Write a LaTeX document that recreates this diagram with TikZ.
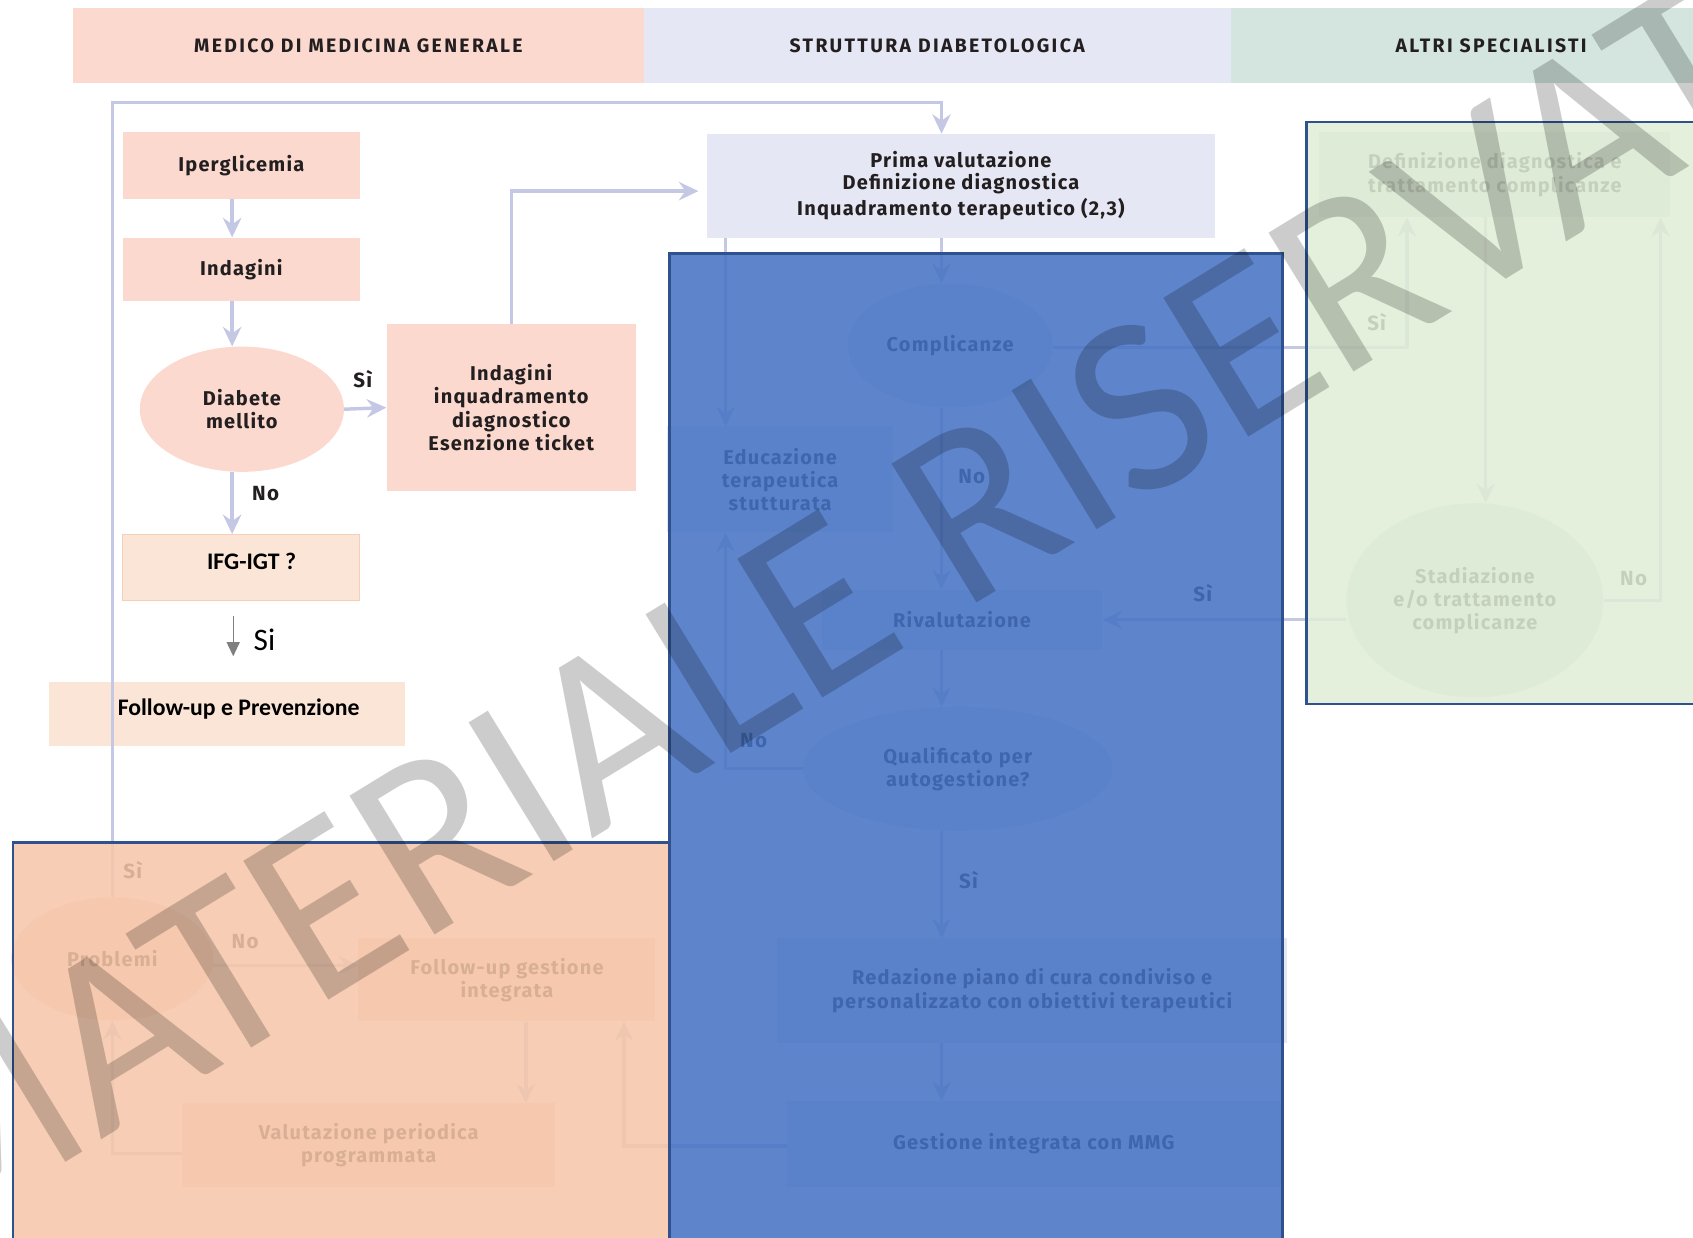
\documentclass[tikz,border=0pt]{standalone}
\usepackage{fontspec}
\setmainfont{Fira Sans}
\newfontfamily\bodyf{Fira Sans}[LetterSpace=6.0]
\newfontfamily\hdrf{Fira Sans}[LetterSpace=12.0]
\newfontfamily\calf{Carlito}
\usetikzlibrary{arrows.meta,shapes.geometric,calc}
\definecolor{pinkc}{RGB}{251,217,206}
\definecolor{peach}{RGB}{251,229,214}
\definecolor{peachb}{RGB}{247,206,182}
\definecolor{lav}{RGB}{230,231,244}
\definecolor{greenh}{RGB}{211,229,222}
\definecolor{conn}{RGB}{197,200,228}
\definecolor{txt}{RGB}{35,31,32}
\definecolor{ovblue}{RGB}{68,114,196}
\definecolor{ovorange}{RGB}{246,199,169}
\definecolor{ovgreen}{RGB}{224,238,214}
\definecolor{ovborder}{RGB}{47,82,143}
\definecolor{grayarr}{RGB}{127,127,127}
\tikzset{
  box/.style={rectangle, inner sep=0pt, align=center, text=txt,
    font=\bodyf\bfseries\fontsize{18.5}{21.5}\selectfont},
  pbox/.style={box, fill=pinkc},
  lbox/.style={box, fill=lav},
  gbox/.style={box, fill=greenh},
  ell/.style={ellipse, inner sep=0pt, align=center, text=txt,
    font=\bodyf\bfseries\fontsize{18.5}{21.5}\selectfont},
  conarrow/.style={draw=conn, line width=3.2pt, -{Stealth[length=18pt,width=17pt,inset=6pt]}},
  grayarrow/.style={draw=grayarr, line width=1.2pt, -{Triangle[length=13pt,width=12pt]}},
  lab/.style={text=txt, inner sep=0pt, font=\bodyf\bfseries\fontsize{19}{22}\selectfont},
  hdr/.style={rectangle, inner sep=0pt, minimum height=70pt, text=txt,
    font=\hdrf\bfseries\fontsize{18}{21}\selectfont},
  calbold/.style={inner sep=0pt, text=black, font=\calf\bfseries\fontsize{22}{26}\selectfont},
  ovl/.style={draw=ovborder, line width=2.5pt, fill opacity=0.86}
}
\begin{document}
\begin{tikzpicture}[x=1pt,y=-1pt]
\useasboundingbox (0,0) rectangle (1568,1146);
\begin{scope}
\clip (0,0) rectangle (1568,1146);
\fill[white] (0,0) rectangle (1568,1146);

% column x positions
\coordinate (cA) at (215,0);
\coordinate (cM) at (872,0);
\coordinate (cE) at (672,0);
\coordinate (cS) at (1303,0);
\coordinate (cD) at (1376,0);
\coordinate (cN) at (1538,0);
\coordinate (cF) at (578,0);
\coordinate (cV) at (487,0);
\coordinate (gx) at (216,0);
\coordinate (cL) at (104,95);

% headers
\node[hdr, fill=pinkc, minimum width=528pt] (hL) at (332,42) {\raisebox{-1pt}{MEDICO DI MEDICINA GENERALE}};
\node[hdr, fill=lav, minimum width=544pt] (hM) at (868,42) {\raisebox{-1pt}{STRUTTURA DIABETOLOGICA}};
\node[hdr, fill=greenh, minimum width=482pt] (hR) at (1381,42) {\raisebox{-1pt}{ALTRI SPECIALISTI}};

% left column
\node[pbox, minimum width=219pt, minimum height=62pt] (ipe) at (223.5,153) {\raisebox{-2pt}{Iperglicemia}};
\node[pbox, minimum width=219pt, minimum height=59pt] (ind) at (223.5,249.5) {\raisebox{-2pt}{Indagini}};
\node[ell, fill=pinkc, minimum width=189pt, minimum height=116pt] (dm) at (224,379) {Diabete\\mellito};
\node[pbox, minimum width=231pt, minimum height=155pt] (indq) at (473.5,377.5) {Indagini\\inquadramento\\diagnostico\\Esenzione ticket};
\node[rectangle, inner sep=0pt, fill=peach, draw=peachb, line width=0.8pt, minimum width=220pt, minimum height=61pt] (ifg) at (223,525.5) {};
\node[calbold] (ifgt) at (233,520) {IFG-IGT ?};
\node[rectangle, inner sep=0pt, fill=peach, minimum width=330pt, minimum height=59pt] (fup) at (210,661.5) {};
\node[calbold] (fupt) at (221,657) {Follow-up e Prevenzione};
\node[inner sep=0pt, text=black, font=\calf\fontsize{29}{32}\selectfont] (sil) at (245,593) {Si};

% middle column
\node[lbox, minimum width=470pt, minimum height=96pt] (prima) at (890,172) {\raisebox{-2pt}{\shortstack{Prima valutazione\\[1.5pt]Definizione diagnostica\\[1.5pt]Inquadramento terapeutico (2,3)}}};
\node[ell, fill=lav, minimum width=190pt, minimum height=115pt] (compl) at (880,320) {Complicanze};
\node[lbox, minimum width=209pt, minimum height=98pt] (edu) at (722.5,444) {Educazione\\terapeutica\\stutturata};
\node[lbox, minimum width=260pt, minimum height=56pt] (rival) at (891,574) {Rivalutazione};
\node[ell, fill=lav, minimum width=287pt, minimum height=115pt] (qual) at (887,712) {Qualificato per\\autogestione?};
\node[lbox, minimum width=472pt, minimum height=97pt] (redaz) at (956,917.5) {Redazione piano di cura condiviso e\\personalizzato con obiettivi terapeutici};
\node[lbox, minimum width=457pt, minimum height=79pt] (gest) at (957.5,1059.5) {Gestione integrata con MMG};

% right column
\node[gbox, minimum width=325pt, minimum height=79pt, align=left] (defi) at (1384.5,161.5) {\raisebox{-3pt}{\shortstack[l]{Definizione diagnostica e\\trattamento complicanze}}};
\node[ell, fill=greenh, minimum width=238pt, minimum height=180pt] (stad) at (1366,556) {Stadiazione\\e/o trattamento\\complicanze};

% bottom left
\node[ell, fill=pinkc, minimum width=187pt, minimum height=114pt] (prob) at (104,888) {Problemi};
\node[pbox, minimum width=275pt, minimum height=77pt] (fgi) at (469.5,907.5) {Follow-up gestione\\integrata};
\node[pbox, minimum width=345pt, minimum height=77pt] (valp) at (341.5,1060.5) {Valutazione periodica\\programmata};

% connectors
\draw[conarrow] (ipe.south -| cA) -- (ind.north -| cA);
\draw[conarrow] (ind.south -| cA) -- (dm.north -| cA);
\draw[conarrow] (dm.east) -- (indq.west);
\node[lab] (lsi1) at (336,351) {Sì};
\draw[conarrow] (dm.south -| cA) -- (ifg.north -| cA);
\node[lab] (lno1) at (246,457) {No};
\draw[grayarrow, shorten <=14pt, shorten >=24pt] (ifg.south -| gx) -- (fup.north -| gx);
\draw[conarrow, shorten >=8pt] (indq.north) |- ([yshift=-5pt]prima.west);
\draw[conarrow] (prob.north) |- (cL) -| (prima.north -| cM);
\node[lab] (lsi2) at (123,806) {Sì};
\draw[conarrow] (prima.south -| cM) -- (compl.north -| cM);
\draw[conarrow] (prima.south -| cE) -- (edu.north -| cE);
\draw[conarrow] (compl.south -| cM) -- (rival.north -| cM);
\node[lab] (lno2) at (900,441) {No};
\draw[conarrow] ([yshift=-2pt]compl.east) -| (defi.south -| cS);
\node[lab] (lsi3) at (1275,298) {Sì};
\draw[conarrow] (defi.south -| cD) -- (stad.north -| cD);
\draw[conarrow] (stad.east) -| (defi.south -| cN);
\node[lab] (lno3) at (1513,536) {No};
\draw[conarrow] (stad.west |- rival.east) -- (rival.east);
\node[lab] (lsi4) at (1114,549) {Sì};
\draw[conarrow] (rival.south -| cM) -- (qual.north -| cM);
\draw[conarrow] (qual.west) -| (edu.south -| cE);
\node[lab] (lno4) at (698,686) {No};
\draw[conarrow] (qual.south -| cM) -- (redaz.north -| cM);
\node[lab] (lsi5) at (897,815) {Sì};
\draw[conarrow] (redaz.south -| cM) -- (gest.north -| cM);
\draw[conarrow] ([yshift=-2pt]gest.west) -| (fgi.south -| cF);
\draw[conarrow] ([yshift=-6pt]prob.east) -- ([yshift=-6pt]prob.east -| fgi.west);
\node[lab] (lno5) at (227,872) {No};
\draw[conarrow] (fgi.south -| cV) -- (valp.north -| cV);
\draw[conarrow] ([yshift=-8pt]valp.west) -| (prob.south);

% overlays
\fill[ovorange, fill opacity=0.86] (12,780) rectangle (620,1160);
\draw[ovborder, line width=2.5pt] (12,1160) -- (12,780) -- (620,780) -- (620,1160);
\filldraw[ovl, fill=ovblue] (620,235) rectangle (1188,1160);
\filldraw[ovl, fill=ovgreen] (1210,113) rectangle (1590,652);

% watermark
\node[rotate=31.5, inner sep=0pt, text=black, text opacity=0.2, font=\calf\fontsize{235}{240}\selectfont] (wm) at (809,529) {MATERIALE RISERVATO};
\end{scope}
\end{tikzpicture}
\end{document}
